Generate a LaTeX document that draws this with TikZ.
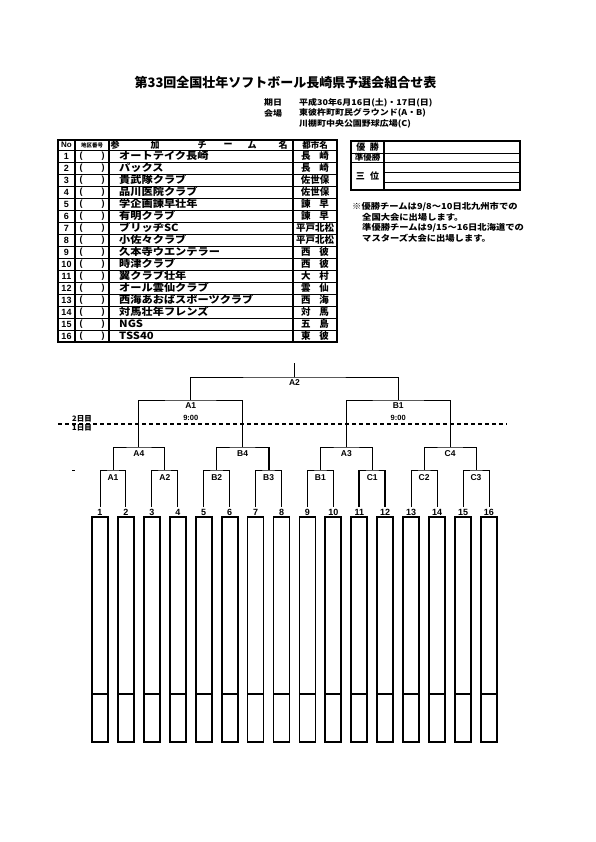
\documentclass[tikz,border=0pt]{standalone}
\usepackage{fontspec}
\setmainfont{Liberation Sans}
\newfontfamily\jp{Noto Sans CJK JP}
\newfontfamily\jpw{Noto Sans CJK JP}[FakeStretch=1.12]
\tikzset{
  tbl/.style={line width=1.4pt},
  rowline/.style={line width=0.9pt},
  colline/.style={line width=1.2pt},
  brk/.style={line width=0.9pt},
  brkthick/.style={line width=2pt},
  jtxt/.style={inner sep=0pt, font=\jp\bfseries\fontsize{#1}{#1}\selectfont},
  jwtxt/.style={inner sep=0pt, font=\jpw\bfseries\fontsize{#1}{#1}\selectfont},
  ltxt/.style={inner sep=0pt, font=\bfseries\fontsize{#1}{#1}\selectfont},
  lbox/.style={draw, line width=1.8pt},
  dayline/.style={line width=1.6pt, dash pattern=on 4pt off 3pt},
}
\begin{document}
\begin{tikzpicture}[x=1pt,y=-1pt]
\useasboundingbox[fill=white] (0,0) rectangle (595,842);

% ---- title block
\node[jtxt=13] (title) at (285.5,83) {第33回全国壮年ソフトボール長崎県予選会組合せ表};
\node[jwtxt=8,anchor=west] (k1) at (264,103) {期日};
\node[jwtxt=8,anchor=west] (v1) at (299,103) {平成30年6月16日(土)・17日(日)};
\node[jwtxt=8,anchor=west] (k2) at (264,113) {会場};
\node[jwtxt=8,anchor=west] (v2) at (299,113) {東彼杵町町民グラウンド(A・B)};
\node[jwtxt=8,anchor=west] (v3) at (299,124) {川棚町中央公園野球広場(C)};

% ---- team table
\draw[tbl] (58,140) rectangle (337,342);
\draw[rowline] (58,150) -- (337,150);
\foreach \k in {1,...,15} \draw[rowline] (58,150+12*\k) -- (337,150+12*\k);
\foreach \xx in {75,109,293} \draw[colline] (\xx,140) -- (\xx,342);
\node[ltxt=8] (hno) at (66.5,145) {No};
\node[jtxt=5.5] (hku) at (92,145) {地区番号};
\node[jtxt=9] (h1) at (115,145) {参};
\node[jtxt=9] (h2) at (155,145) {加};
\node[jtxt=9] (h3) at (202,145) {チ};
\node[jtxt=9] (h4) at (228,145) {ー};
\node[jtxt=9] (h5) at (252,145) {ム};
\node[jtxt=9] (h6) at (283,145) {名};
\node[jtxt=8.5] (hcity) at (315,145) {都市名};
\foreach \i/\tm/\ct in {
  1/オートテイク長崎/長\hspace{0.9em}崎,
  2/パックス/長\hspace{0.9em}崎,
  3/貴武隊クラブ/佐世保,
  4/品川医院クラブ/佐世保,
  5/学企画諫早壮年/諫\hspace{0.9em}早,
  6/有明クラブ/諫\hspace{0.9em}早,
  7/ブリッヂSC/平戸北松,
  8/小佐々クラブ/平戸北松,
  9/久本寺ウエンテラー/西\hspace{0.9em}彼,
  10/時津クラブ/西\hspace{0.9em}彼,
  11/翼クラブ壮年/大\hspace{0.9em}村,
  12/オール雲仙クラブ/雲\hspace{0.9em}仙,
  13/西海あおばスポーツクラブ/西\hspace{0.9em}海,
  14/対馬壮年フレンズ/対\hspace{0.9em}馬,
  15/NGS/五\hspace{0.9em}島,
  16/TSS40/東\hspace{0.9em}彼}{
  \node[ltxt=9] (no\i) at (66.5,144+12*\i) {\i};
  \node[ltxt=9] (po\i) at (81,144+12*\i) {(};
  \node[ltxt=9] (pc\i) at (103,144+12*\i) {)};
  \node[jwtxt=10,anchor=west] (tm\i) at (119,144+12*\i) {\tm};
  \node[jtxt=9.5] (ct\i) at (315,144+12*\i) {\ct};
}

% ---- result box
\draw[tbl] (351,141) rectangle (520,190);
\draw[rowline] (351,153) -- (520,153);
\draw[rowline] (351,162) -- (520,162);
\draw[rowline] (384,172) -- (520,172);
\draw[rowline] (384,182) -- (520,182);
\draw[colline] (384,141) -- (384,190);
\node[jtxt=9] (r1) at (367.5,147) {優\hspace{0.5em}勝};
\node[jtxt=8.5] (r2) at (367.5,157.5) {準優勝};
\node[jtxt=9] (r3) at (367.5,176) {三\hspace{0.6em}位};

% ---- notes
\node[jwtxt=8.3,anchor=west] (n1) at (352,207) {※優勝チームは9/8～10日北九州市での};
\node[jwtxt=8.3,anchor=west] (n2) at (362,217.5) {全国大会に出場します。};
\node[jwtxt=8.3,anchor=west] (n3) at (362,228) {準優勝チームは9/15～16日北海道での};
\node[jwtxt=8.3,anchor=west] (n4) at (362,238.5) {マスターズ大会に出場します。};

% ---- bracket leaves and boxes
\foreach \i in {1,...,16}{
  \pgfmathsetmacro\xx{100+(\i-1)*25.93}
  \coordinate (L\i) at (\xx,507);
  \node[ltxt=9] (num\i) at (\xx,512.5) {\i};
  \draw[lbox] (\xx-8,517) rectangle (\xx+8,742);
  \draw[line width=1.8pt] (\xx-8,694) -- (\xx+8,694);
}

% match points
\coordinate (m1) at (112.97,470);
\coordinate (m2) at (164.83,470);
\coordinate (m3) at (216.69,470);
\coordinate (m4) at (268.55,470);
\coordinate (m5) at (320.41,470);
\coordinate (m6) at (372.27,470);
\coordinate (m7) at (424.13,470);
\coordinate (m8) at (475.99,470);
\coordinate (s1) at (138.9,447);
\coordinate (s2) at (242.62,447);
\coordinate (s3) at (346.34,447);
\coordinate (s4) at (450.06,447);
\coordinate (q1) at (190.76,400);
\coordinate (q2) at (398.2,400);
\coordinate (f) at (294.48,377);
\coordinate (top) at (294.48,363);

\draw[brk] (L1) |- (m1) -| (L2);
\draw[brk] (L3) |- (m2) -| (L4);
\draw[brk] (L5) |- (m3) -| (L6);
\draw[brk] (L7) |- (m4) -| (L8);
\draw[brk] (L9) |- (m5) -| (L10);
\draw[brk] (L11) |- (m6) -| (L12);
\draw[brk] (L13) |- (m7) -| (L14);
\draw[brk] (L15) |- (m8) -| (L16);
\draw[brkthick] (L11) -- (L11 |- m6);
\draw[brkthick] (L12) -- (L12 |- m6);
\draw[brk] (m1) |- (s1) -| (m2);
\draw[brk] (m3) |- (s2) -| (m4);
\draw[brkthick] (m4) -- (m4 |- s2);
\draw[brk] (m5) |- (s3) -| (m6);
\draw[brk] (m7) |- (s4) -| (m8);
\draw[brk] (s1) |- (q1) -| (s2);
\draw[brk] (s3) |- (q2) -| (s4);
\draw[brk] (q1) |- (f) -| (q2);
\draw[brk] (f) -- (top);

% match labels
\foreach \c/\t in {m1/A1,m2/A2,m3/B2,m4/B3,m5/B1,m6/C1,m7/C2,m8/C3}
  \node[ltxt=8.5] (lb\c) at ([yshift=-7.5pt]\c) {\t};
\foreach \c/\t in {s1/A4,s2/B4,s3/A3,s4/C4}
  \node[ltxt=8.5] (lb\c) at ([yshift=-7pt]\c) {\t};
\node[ltxt=8.5] (lbq1) at ([yshift=-5.5pt]q1) {A1};
\node[ltxt=7.5] (tq1) at ([yshift=-18pt]q1) {9:00};
\node[ltxt=8.5] (lbq2) at ([yshift=-5.5pt]q2) {B1};
\node[ltxt=7.5] (tq2) at ([yshift=-18pt]q2) {9:00};
\node[ltxt=8.5] (lbf) at ([yshift=-6pt]f) {A2};

% day divider
\coordinate (dl) at (58,424);
\coordinate (dr) at (507,424);
\draw[dayline] (dl) -- (dr);
\node[jtxt=7.5] (d2) at (82,418.5) {2日目};
\node[jtxt=7.5] (d1) at (82,428) {1日目};
\coordinate (mk1) at (72,470.5);
\coordinate (mk2) at (74.5,470.5);
\draw[line width=0.8pt] (mk1) -- (mk2);
\end{tikzpicture}
\end{document}
